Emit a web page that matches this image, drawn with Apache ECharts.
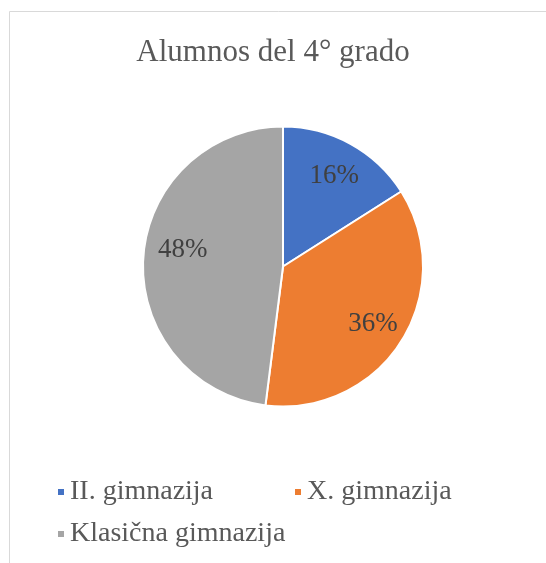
<!DOCTYPE html>
<html>
<head>
<meta charset="utf-8">
<script src="https://cdn.jsdelivr.net/npm/echarts@6/dist/echarts.min.js"></script>
<style>
  html, body { margin: 0; padding: 0; background: #fff; }
  #chart { width: 546px; height: 563px; }
</style>
</head>
<body>
<div id="chart"></div>
<script>
const categories = ['II. gimnazija', 'X. gimnazija', 'Klasična gimnazija'];
const shares = [16, 36, 48];
const colors = ['#4472C4', '#ED7D31', '#A5A5A5'];

const font = '"Liberation Serif", "Times New Roman", serif';
const pieData = categories.map((name, i) => ({ name, value: shares[i] }));

// Excel's "best fit" labels don't sit exactly on the bisector, so nudge a bit
// with empty rich-text spacers: [top gap, bottom gap, left gap]
const labelNudge = [[6, 0, 0], [0, 0, 0], [0, 20, 12]];

function labelText(p) {
    const [top, bottom, left] = labelNudge[p.dataIndex];
    let s = (left ? '{sl|}' : '') + '{v|' + p.value + '%}';
    if (top) s = '{st|}\n' + s;
    if (bottom) s = s + '\n{sb|}';
    return s;
}

const chart = echarts.init(document.getElementById('chart'));

chart.setOption({
    color: colors,
    animation: false,
    title: {
        text: 'Alumnos del 4° grado',
        left: 'center',
        top: 32,
        textStyle: { fontFamily: font, fontSize: 31, fontWeight: 'normal', color: '#595959' }
    },
    legend: {
        data: categories,
        left: 51,
        top: 471,
        width: 490,
        icon: 'rect',
        itemWidth: 8,
        itemHeight: 8,
        itemGap: 10,
        itemTextGap: 11,
        selectedMode: false,
        textStyle: { fontFamily: font, fontSize: 28, color: '#595959', width: 213, lineHeight: 32 }
    },
    graphic: [{
        type: 'rect',
        shape: { x: 9.5, y: 11.5, width: 700, height: 700 },
        style: { fill: 'none', stroke: '#d9d9d9', lineWidth: 1 },
        silent: true,
        z: -1
    }],
    series: [
        {
            type: 'pie',
            center: [283, 266.5],
            radius: [0, 140],
            startAngle: 90,
            clockwise: true,
            data: pieData,
            itemStyle: { borderColor: '#fff', borderWidth: 2 },
            label: { show: false },
            labelLine: { show: false },
            silent: true
        },
        {
            // transparent ring that only carries the labels further out
            type: 'pie',
            center: [283, 266.5],
            radius: [67, 140],
            startAngle: 90,
            clockwise: true,
            data: pieData,
            itemStyle: { color: 'rgba(0,0,0,0)' },
            label: {
                show: true,
                position: 'inside',
                formatter: labelText,
                fontFamily: font,
                fontSize: 27,
                color: '#404040',
                rich: {
                    v: { fontFamily: font, fontSize: 27, color: '#404040', lineHeight: 30 },
                    st: { height: 6, lineHeight: 6, fontSize: 1 },
                    sb: { height: 20, lineHeight: 20, fontSize: 1 },
                    sl: { width: 12, fontSize: 1 }
                }
            },
            labelLine: { show: false },
            legendHoverLink: false,
            silent: true
        }
    ]
});
</script>
</body>
</html>
